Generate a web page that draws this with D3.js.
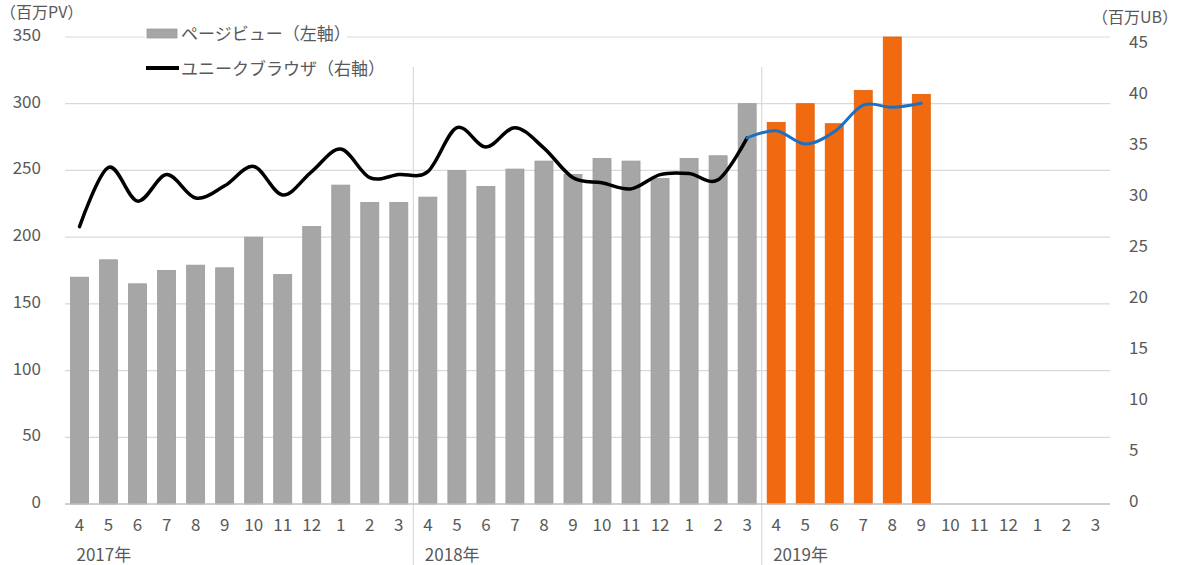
<!DOCTYPE html>
<html><head><meta charset="utf-8">
<script src="https://cdn.jsdelivr.net/npm/d3@7"></script>
<style>
html,body{margin:0;padding:0;background:#fff;}
text{font-family:"Noto Sans CJK JP","Noto Sans",sans-serif;fill:#595959;}
</style></head>
<body><svg id="c" width="1178" height="565"></svg>
<script>
const months = ["4","5","6","7","8","9","10","11","12","1","2","3",
                "4","5","6","7","8","9","10","11","12","1","2","3",
                "4","5","6","7","8","9","10","11","12","1","2","3"];
const years = [{label:"2017年", start:0},{label:"2018年", start:12},{label:"2019年", start:24}];
// page views (millions), left axis
const pageViews = [170,183,165,175,179,177,200,172,208,239,226,226,
                   230,250,238,251,257,247,259,257,244,259,261,300,
                   286,300,285,310,350,307,null,null,null,null,null,null];
// unique browsers (millions), right axis
const uniqueBrowsers = [26.9,32.7,29.4,32.0,29.7,30.9,32.8,30.0,32.3,34.5,31.7,32.0,
                        32.3,36.6,34.7,36.6,34.6,31.7,31.2,30.6,32.0,32.1,31.5,35.6,
                        36.3,35.0,36.2,38.8,38.6,39.0,null,null,null,null,null,null];
const leftTicks = [0,50,100,150,200,250,300,350];
const rightTicks = [0,5,10,15,20,25,30,35,40,45];
const highlightStart = 24;
const legendLabels = ["ページビュー（左軸）","ユニークブラウザ（右軸）"];
const FS = 17;

const svg = d3.select("#c");
const x = d3.scaleBand().domain(d3.range(months.length)).range([65,1110]).paddingInner(0.38).paddingOuter(0.19);
const y = d3.scaleLinear().domain([0,350]).range([504,37]);
const y2 = d3.scaleLinear().domain([0,45]).range([501,42]);

// gridlines
svg.append("g").selectAll("line").data(leftTicks.filter(d=>d>0)).join("line")
  .attr("x1",65).attr("x2",1110).attr("y1",d=>y(d)).attr("y2",d=>y(d))
  .attr("stroke","#d9d9d9").attr("stroke-width",1.2);

// left axis labels
const yAxis = d3.axisLeft(y).tickValues(leftTicks).tickSize(0).tickPadding(0);
const gl = svg.append("g").attr("transform","translate(41,-2)").call(yAxis);
gl.select(".domain").remove();
gl.selectAll("text").attr("font-size",FS).attr("fill","#595959").attr("font-family",null);

// right axis labels
const y2Axis = d3.axisRight(y2).tickValues(rightTicks).tickSize(0).tickPadding(0);
const gr = svg.append("g").attr("transform","translate(1129,0)").call(y2Axis);
gr.select(".domain").remove();
gr.selectAll("text").attr("font-size",FS).attr("fill","#595959").attr("font-family",null);

// axis titles
svg.append("text").attr("x",0).attr("y",11).attr("dominant-baseline","central").attr("font-size",FS-1).text("（百万PV）");
svg.append("text").attr("x",1178).attr("y",16).attr("text-anchor","end").attr("dominant-baseline","central").attr("font-size",FS-1).text("（百万UB）");

// year separators
svg.append("g").selectAll("line").data(years.filter(d=>d.start>0)).join("line")
  .attr("x1",d=>x(d.start)-x.step()*x.paddingInner()/2).attr("x2",d=>x(d.start)-x.step()*x.paddingInner()/2)
  .attr("y1",67).attr("y2",565).attr("stroke","#d9d9d9").attr("stroke-width",1.2);

// bars
svg.append("g").selectAll("rect").data(pageViews.map((v,i)=>({v,i})).filter(d=>d.v!=null)).join("rect")
  .attr("x",d=>x(d.i)).attr("width",x.bandwidth())
  .attr("y",d=>y(d.v)).attr("height",d=>y(0)-y(d.v))
  .attr("fill",d=>d.i>=highlightStart?"#f26a10":"#a6a6a6")
  .attr("stroke",d=>d.i>=highlightStart?"#e0600c":"#9c9c9c").attr("stroke-width",0.8);

// x axis line
svg.append("line").attr("x1",65).attr("x2",1110).attr("y1",y(0)).attr("y2",y(0))
  .attr("stroke","#bfbfbf").attr("stroke-width",1.5);

// month labels
const xAxis = d3.axisBottom(x).tickFormat(i=>months[i]).tickSize(0).tickPadding(0);
const gx = svg.append("g").attr("transform","translate(0,519)").call(xAxis);
gx.select(".domain").remove();
gx.selectAll("text").attr("font-size",FS).attr("fill","#595959").attr("font-family",null);

// year labels
svg.append("g").selectAll("text").data(years).join("text")
  .attr("x",d=>x(d.start)+x.bandwidth()/2-3).attr("y",553).attr("dominant-baseline","central")
  .attr("font-size",FS).attr("fill","#404040").text(d=>d.label);

// lines
const line = d3.line().x(d=>x(d.i)+x.bandwidth()/2).y(d=>y2(d.v)).curve(d3.curveCardinal.tension(0));
const pts = uniqueBrowsers.map((v,i)=>({v,i})).filter(d=>d.v!=null);
svg.append("path").datum(pts.filter(d=>d.i<highlightStart))
  .attr("d",line).attr("fill","none").attr("stroke","#000").attr("stroke-width",3.5).attr("stroke-linejoin","round").attr("stroke-linecap","round");
svg.append("path").datum(pts.filter(d=>d.i>=highlightStart-1))
  .attr("d",line).attr("fill","none").attr("stroke","#1f6fc0").attr("stroke-width",3).attr("stroke-linejoin","round").attr("stroke-linecap","round");

// legend
const lg = svg.append("g");
lg.append("rect").attr("x",145).attr("y",22).attr("width",202).attr("height",22).attr("fill","#fff");
lg.append("rect").attr("x",147).attr("y",29).attr("width",30).attr("height",9).attr("fill","#a6a6a6").attr("stroke","#9c9c9c").attr("stroke-width",0.8);
lg.append("text").attr("x",181).attr("y",32).attr("dominant-baseline","central").attr("font-size",FS).text(legendLabels[0]);
lg.append("line").attr("x1",146).attr("x2",179).attr("y1",68).attr("y2",68).attr("stroke","#000").attr("stroke-width",4);
lg.append("text").attr("x",181).attr("y",67).attr("dominant-baseline","central").attr("font-size",FS).text(legendLabels[1]);
</script></body></html>
